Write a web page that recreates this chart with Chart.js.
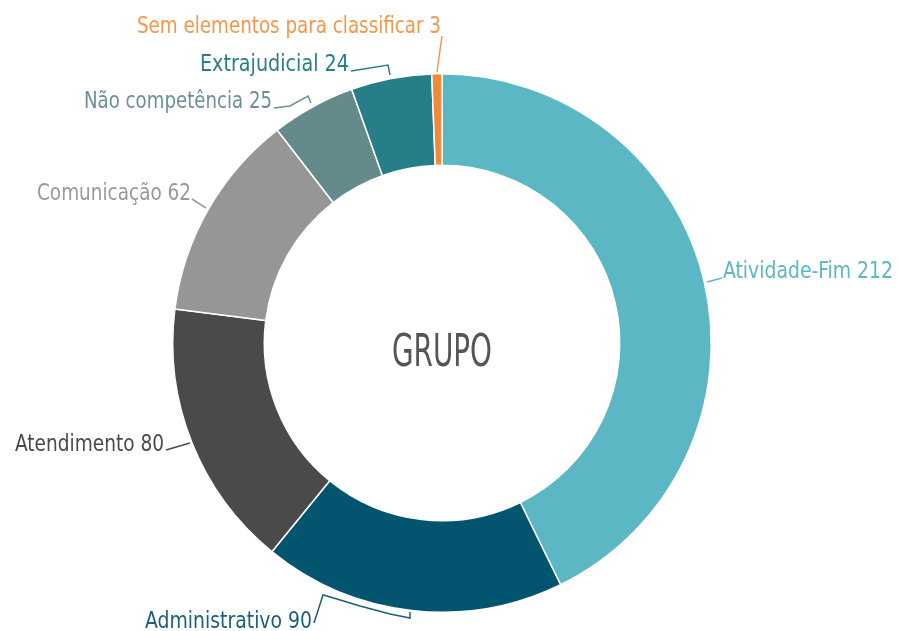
<!DOCTYPE html>
<html lang="pt">
<head>
  <meta charset="UTF-8" />
  <title>Grupo</title>
  <script src="https://cdn.jsdelivr.net/npm/chart.js"></script>
  <style>
    html, body { margin: 0; padding: 0; background: #fff; }
    #wrap { width: 899px; height: 631px; position: relative; }
  </style>
</head>
<body>
  <div id="wrap"><canvas id="chart" width="899" height="631"></canvas></div>

  <script>
    // data
    const categories = ['Atividade-Fim', 'Administrativo', 'Atendimento', 'Comunicação',
                        'Não competência', 'Extrajudicial', 'Sem elementos para classificar'];
    const values = [212, 90, 80, 62, 25, 24, 3];
    const sliceColors = ['#5bb7c4', '#02546f', '#4a4a4a', '#969696', '#658a8c', '#267e88', '#f08a3a'];
    const labelColors = ['#5bb8c5', '#1c5f78', '#4a4a4a', '#999999', '#6b9095', '#2a7e88', '#f5964c'];
    const centerTitle = 'GRUPO';

    const FONT = "'Liberation Sans Narrow', 'DejaVu Sans Condensed', sans-serif";

    // where each label sits and how its leader runs (text box + polyline)
    const labelLayout = [
      { left: 723, right: 893, base: 278, line: [[722, 278], [707, 282]] },
      { left: 145, right: 312, base: 628, line: [[314, 623], [323, 595], [327, 596], [360, 606], [390, 614], [410, 618], [410, 612]] },
      { left: 15, right: 164, base: 451, line: [[166, 450], [190, 443]] },
      { left: 37, right: 191, base: 200, line: [[192, 199], [206, 208]] },
      { left: 84, right: 272, base: 108, line: [[274, 108], [290, 106], [308, 96], [311, 103]] },
      { left: 200, right: 349, base: 71, line: [[351, 71], [388, 65], [390, 75]] },
      { left: 137, right: 441, base: 33, line: [[442, 36], [440, 50], [437, 72]] }
    ];

    const labelPlugin = {
      id: 'sliceLabels',
      afterDraw(chart) {
        const ctx = chart.ctx;
        ctx.save();
        ctx.font = '23px ' + FONT;
        ctx.textBaseline = 'alphabetic';
        categories.forEach((name, i) => {
          const lay = labelLayout[i];
          const txt = name + ' ' + values[i];
          const w = ctx.measureText(txt).width;
          const sx = (lay.right - lay.left) / w;
          ctx.save();
          ctx.translate(lay.left, lay.base);
          ctx.scale(sx, 1);
          ctx.fillStyle = labelColors[i];
          ctx.fillText(txt, 0, 0);
          ctx.restore();

          ctx.beginPath();
          lay.line.forEach(([x, y], k) => k ? ctx.lineTo(x, y) : ctx.moveTo(x, y));
          ctx.strokeStyle = labelColors[i];
          ctx.lineWidth = 1.5;
          ctx.stroke();
        });

        // centre title
        const meta = chart.getDatasetMeta(0).data[0];
        ctx.font = '45px ' + FONT;
        const tw = ctx.measureText(centerTitle).width;
        ctx.save();
        ctx.translate(meta.x, meta.y + 23);
        ctx.scale(100 / tw, 1);
        ctx.fillStyle = '#555555';
        ctx.textAlign = 'center';
        ctx.fillText(centerTitle, 0, 0);
        ctx.restore();
        ctx.restore();
      }
    };

    new Chart(document.getElementById('chart').getContext('2d'), {
      type: 'doughnut',
      data: {
        labels: categories,
        datasets: [{
          data: values,
          backgroundColor: sliceColors,
          borderColor: '#ffffff',
          borderWidth: 1.5
        }]
      },
      options: {
        responsive: false,
        animation: false,
        cutout: '66%',
        layout: { padding: { left: 172, right: 187, top: 73, bottom: 18 } },
        plugins: {
          legend: { display: false },
          tooltip: { enabled: false }
        }
      },
      plugins: [labelPlugin]
    });
  </script>
</body>
</html>
